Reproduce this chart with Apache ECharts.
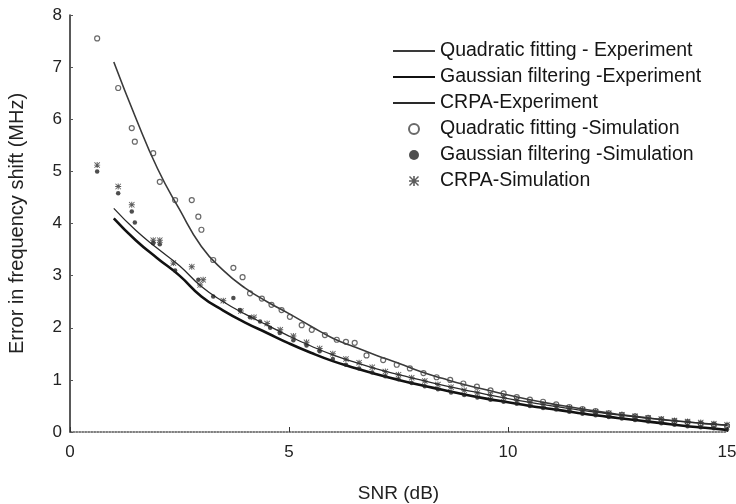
<!DOCTYPE html>
<html>
<head>
<meta charset="utf-8">
<script src="https://cdn.jsdelivr.net/npm/echarts@6/dist/echarts.min.js"></script>
<style>
  html, body { margin: 0; padding: 0; background: #fff; }
  #container1 { width: 736px; height: 504px; }
</style>
</head>
<body>
<div id="container1"></div>
<script>
// experiment curves (SNR in dB, error in MHz)
var snrFit = [1, 1.5, 2, 2.5, 3, 3.5, 4, 4.5, 5, 5.5, 6, 6.5, 7, 7.5, 8, 8.5, 9, 9.5, 10, 10.5, 11, 11.5, 12, 12.5, 13, 13.5, 14, 14.5, 15];
var quadExp = [7.1, 6.03, 5.05, 4.27, 3.56, 3.1, 2.76, 2.5, 2.27, 2.03, 1.8, 1.63, 1.47, 1.32, 1.16, 1.03, 0.91, 0.81, 0.71, 0.62, 0.54, 0.47, 0.4, 0.34, 0.29, 0.24, 0.2, 0.16, 0.13];
var gaussExp = [4.1, 3.68, 3.33, 3.0, 2.6, 2.33, 2.1, 1.9, 1.7, 1.52, 1.36, 1.23, 1.11, 1.0, 0.9, 0.81, 0.72, 0.64, 0.57, 0.5, 0.44, 0.38, 0.32, 0.27, 0.22, 0.17, 0.12, 0.08, 0.04];
var crpaExp = [4.29, 3.87, 3.52, 3.19, 2.79, 2.5, 2.26, 2.05, 1.84, 1.65, 1.48, 1.34, 1.21, 1.1, 1.0, 0.9, 0.81, 0.72, 0.64, 0.57, 0.5, 0.44, 0.38, 0.33, 0.28, 0.24, 0.2, 0.16, 0.13];

// simulation points [SNR, error]
var simQuad = [[0.62, 7.55], [1.1, 6.6], [1.41, 5.83], [1.48, 5.57], [1.9, 5.35], [2.05, 4.8], [2.4, 4.45], [2.78, 4.45], [2.93, 4.13], [3.0, 3.88], [3.27, 3.3], [3.73, 3.15], [3.94, 2.97], [4.11, 2.66], [4.38, 2.56], [4.6, 2.44], [4.83, 2.34], [5.02, 2.21], [5.29, 2.05], [5.52, 1.96], [5.82, 1.86], [6.09, 1.77], [6.3, 1.73], [6.5, 1.71], [6.77, 1.47], [7.15, 1.38], [7.46, 1.29], [7.76, 1.22], [8.07, 1.13], [8.37, 1.05], [8.68, 1.0], [8.98, 0.93], [9.29, 0.87], [9.6, 0.8], [9.9, 0.74], [10.2, 0.67], [10.5, 0.62], [10.8, 0.58], [11.1, 0.53], [11.4, 0.48], [11.7, 0.44], [12.0, 0.4], [12.3, 0.36], [12.6, 0.33], [12.9, 0.3], [13.2, 0.27], [13.5, 0.24], [13.8, 0.21], [14.1, 0.19], [14.4, 0.16], [14.7, 0.14], [15.0, 0.12]];
var simGauss = [[0.62, 5.0], [1.1, 4.58], [1.41, 4.23], [1.48, 4.02], [1.9, 3.62], [2.05, 3.6], [2.4, 3.1], [2.93, 2.92], [3.27, 2.6], [3.73, 2.57], [3.88, 2.34], [4.11, 2.2], [4.34, 2.12], [4.57, 2.0], [4.79, 1.9], [5.1, 1.76], [5.4, 1.66], [5.7, 1.55], [6.0, 1.4], [6.3, 1.29], [6.6, 1.22], [6.9, 1.14], [7.2, 1.07], [7.5, 1.01], [7.8, 0.94], [8.1, 0.88], [8.4, 0.82], [8.7, 0.76], [9.0, 0.71], [9.3, 0.66], [9.6, 0.62], [9.9, 0.58], [10.2, 0.54], [10.5, 0.5], [10.8, 0.46], [11.1, 0.43], [11.4, 0.39], [11.7, 0.35], [12.0, 0.32], [12.3, 0.29], [12.6, 0.26], [12.9, 0.23], [13.2, 0.2], [13.5, 0.17], [13.8, 0.14], [14.1, 0.11], [14.4, 0.09], [14.7, 0.07], [15.0, 0.05]];
var simCrpa = [[0.62, 5.12], [1.1, 4.71], [1.41, 4.36], [1.9, 3.68], [2.05, 3.68], [2.36, 3.24], [2.78, 3.17], [2.97, 2.82], [3.04, 2.92], [3.5, 2.52], [3.9, 2.32], [4.2, 2.2], [4.5, 2.08], [4.8, 1.96], [5.1, 1.84], [5.4, 1.72], [5.7, 1.6], [6.0, 1.5], [6.3, 1.4], [6.6, 1.33], [6.9, 1.24], [7.2, 1.16], [7.5, 1.1], [7.8, 1.04], [8.1, 0.98], [8.4, 0.91], [8.7, 0.86], [9.0, 0.8], [9.3, 0.75], [9.6, 0.7], [9.9, 0.66], [10.2, 0.61], [10.5, 0.57], [10.8, 0.53], [11.1, 0.49], [11.4, 0.46], [11.7, 0.42], [12.0, 0.39], [12.3, 0.36], [12.6, 0.33], [12.9, 0.3], [13.2, 0.27], [13.5, 0.25], [13.8, 0.22], [14.1, 0.2], [14.4, 0.18], [14.7, 0.16], [15.0, 0.14]];

var seriesNames = ['Quadratic fitting - Experiment', 'Gaussian filtering -Experiment', 'CRPA-Experiment',
	'Quadratic fitting -Simulation', 'Gaussian filtering -Simulation', 'CRPA-Simulation'];

function zip(xs, ys) {
	var out = [];
	for (var i = 0; i < xs.length; i++) out.push([xs[i], ys[i]]);
	return out;
}

var starPath = 'path://M4.2,0h1.6v4.2h4.2v1.6h-4.2v4.2h-1.6v-4.2h-4.2v-1.6h4.2zM1,0L5,4L9,0L10,1L6,5L10,9L9,10L5,6L1,10L0,9L4,5L0,1Z';
var font = 'Liberation Sans';

// legend: hide the symbol dot on line entries, keep the line
var legendData = seriesNames.map(function(n, i) {
	return i < 3 ? { name : n, itemStyle : { opacity : 0 } } : { name : n };
});

var myChart = echarts.init(document.getElementById('container1'));
myChart.setOption({
	animation : false,
	backgroundColor : '#fff',
	textStyle : { fontFamily : font },
	grid : { left : 70, right : 9, top : 15, bottom : 72, outerBoundsMode : 'none' },
	legend : {
		orient : 'vertical',
		left : 387,
		top : 36,
		itemWidth : 42,
		itemHeight : 10,
		itemGap : 6,
		textStyle : { fontSize : 19.5, color : '#151515', fontFamily : font },
		data : legendData
	},
	xAxis : {
		type : 'value',
		min : 0, max : 15, interval : 5,
		name : 'SNR (dB)',
		nameLocation : 'middle',
		nameGap : 52,
		nameTextStyle : { fontSize : 19, color : '#222' },
		axisLine : { lineStyle : { color : '#555', width : 1.5, type : 'dotted' } },
		axisTick : { inside : true, length : 5, lineStyle : { color : '#333' } },
		axisLabel : { fontSize : 17, color : '#222', margin : 12 },
		splitLine : { show : false }
	},
	yAxis : {
		type : 'value',
		min : 0, max : 8, interval : 1,
		name : 'Error in frequency shift (MHz)',
		nameLocation : 'middle',
		nameGap : 43,
		nameTextStyle : { fontSize : 20, color : '#222' },
		axisLine : { show : true, lineStyle : { color : '#222', width : 1.5 } },
		axisTick : { show : true, inside : true, length : 3, lineStyle : { color : '#555' } },
		axisLabel : { fontSize : 17, color : '#222', margin : 8 },
		splitLine : { show : false }
	},
	series : [ {
		name : seriesNames[0],
		type : 'line',
		smooth : true,
		symbol : 'none',
		data : zip(snrFit, quadExp),
		lineStyle : { color : '#3a3a3a', width : 1.6 },
		itemStyle : { color : '#3a3a3a' },
		z : 3
	}, {
		name : seriesNames[1],
		type : 'line',
		smooth : true,
		symbol : 'none',
		data : zip(snrFit, gaussExp),
		lineStyle : { color : '#111', width : 2.6 },
		itemStyle : { color : '#111' },
		z : 3
	}, {
		name : seriesNames[2],
		type : 'line',
		smooth : true,
		symbol : 'none',
		data : zip(snrFit, crpaExp),
		lineStyle : { color : '#2a2a2a', width : 1.3 },
		itemStyle : { color : '#2a2a2a' },
		z : 3
	}, {
		name : seriesNames[3],
		type : 'scatter',
		symbol : 'circle',
		symbolSize : 5,
		data : simQuad,
		itemStyle : { color : 'rgba(0,0,0,0)', borderColor : '#444', borderWidth : 1.2 },
		z : 4
	}, {
		name : seriesNames[4],
		type : 'scatter',
		symbol : 'circle',
		symbolSize : 4.5,
		data : simGauss,
		itemStyle : { color : '#222' },
		z : 4
	}, {
		name : seriesNames[5],
		type : 'scatter',
		symbol : starPath,
		symbolSize : 6,
		data : simCrpa,
		itemStyle : { color : '#333' },
		z : 4
	} ]
});
</script>
</body>
</html>
